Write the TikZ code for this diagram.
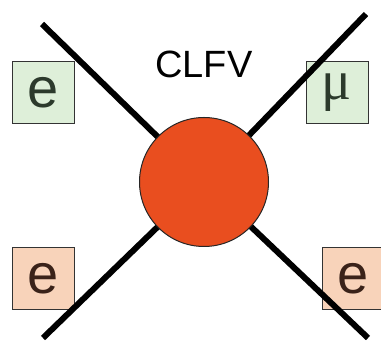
\documentclass[tikz,border=0pt]{standalone}
\usepackage{fontspec}
\setmainfont{Liberation Sans}
\newfontfamily\serifmu{Liberation Serif}
\definecolor{blobred}{HTML}{E94E1F}
\definecolor{boxgreen}{HTML}{DEEFD9}
\definecolor{boxorange}{HTML}{F8D3BA}
\definecolor{txtgreen}{HTML}{2C3A2C}
\definecolor{txtbrown}{HTML}{3A2219}
\tikzset{
  leg/.style={line width=6pt, black},
  lbox/.style={draw=black!80, line width=1pt, minimum width=62pt, minimum height=62pt, inner sep=0pt, font=\fontsize{56}{56}\selectfont},
  gbox/.style={lbox, fill=boxgreen, text=txtgreen},
  obox/.style={lbox, fill=boxorange, text=txtbrown},
}
\begin{document}
\begin{tikzpicture}[x=1pt,y=1pt]
\useasboundingbox (0,0) rectangle (381,342);
\clip (0,0) rectangle (381,342);
\node[gbox] (e1) at (43,249) {e};
\node[gbox] (mu) at (337,249) {\serifmu μ};
\node[obox] (e2) at (43,63) {e};
\node[obox] (e3) at (353,63) {e};
\coordinate (tl) at (42,318);
\coordinate (bl) at (43,4);
\coordinate (tr) at (366,328);
\coordinate (br) at (368,4);
\coordinate (cc) at (204,160);
\draw[leg] (tl) -- (cc);
\draw[leg] (bl) -- (cc);
\draw[leg] (tr) -- (cc);
\draw[leg] (br) -- (cc);
\node[circle, draw=black!85, line width=1pt, fill=blobred, minimum size=129pt, inner sep=0pt] (c) at (cc) {};
\node[font=\fontsize{38}{38}\selectfont] (t) at (204,278) {CLFV};
\end{tikzpicture}
\end{document}
